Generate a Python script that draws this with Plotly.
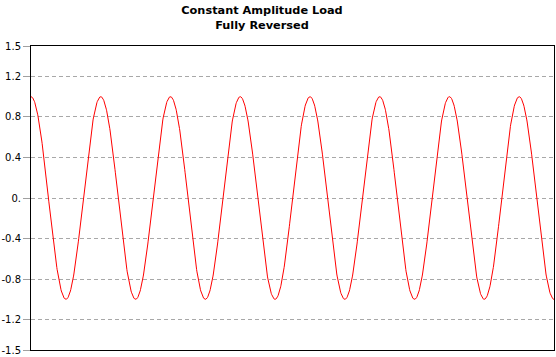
import numpy as np
import plotly.graph_objects as go

# Load parameters (constant amplitude, fully reversed)
amplitude = 1.0
mean_load = 0.0
cycle_count = 7.5
samples_per_cycle = 200

tick_values = [1.5, 1.2, 0.8, 0.4, 0.0, -0.4, -0.8, -1.2, -1.5]
tick_labels = ["1.5", "1.2", "0.8", "0.4", "0.", "-0.4", "-0.8", "-1.2", "-1.5"]

t = np.linspace(0, cycle_count, int(cycle_count * samples_per_cycle) + 1)
load = mean_load + amplitude * np.cos(2 * np.pi * t)

fig = go.Figure(
    go.Scatter(x=t, y=load, mode="lines", line=dict(color="#ff0000", width=1),
               hoverinfo="skip", showlegend=False)
)

fig.update_layout(
    width=556, height=357,
    margin=dict(l=30, r=1, t=46, b=6),
    paper_bgcolor="white", plot_bgcolor="white",
    title=dict(
        text="Constant Amplitude Load<br>Fully Reversed",
        x=262 / 556, xanchor="center", xref="container",
        y=1 - 14 / 357, yanchor="middle", yref="container",
        font=dict(family="DejaVu Sans", size=11.3, color="#000000", weight="bold"),
    ),
    font=dict(family="DejaVu Sans", size=10, color="#000000"),
)

fig.update_xaxes(
    range=[0, cycle_count], showgrid=False, zeroline=False,
    showticklabels=False, ticks="",
    showline=True, mirror=True, linecolor="#000000", linewidth=1,
)
fig.update_yaxes(
    range=[-1.5, 1.5], tickvals=tick_values, ticktext=tick_labels,
    ticks="outside", ticklen=7, tickcolor="#a0a0a0", tickwidth=1,
    showgrid=True, gridcolor="#a8a8a8", gridwidth=1, griddash="4px,3px",
    zeroline=False,
    showline=True, mirror=True, linecolor="#000000", linewidth=1,
    tickfont=dict(family="DejaVu Sans", size=10, color="#000000"),
)

fig.write_html("out.html")
